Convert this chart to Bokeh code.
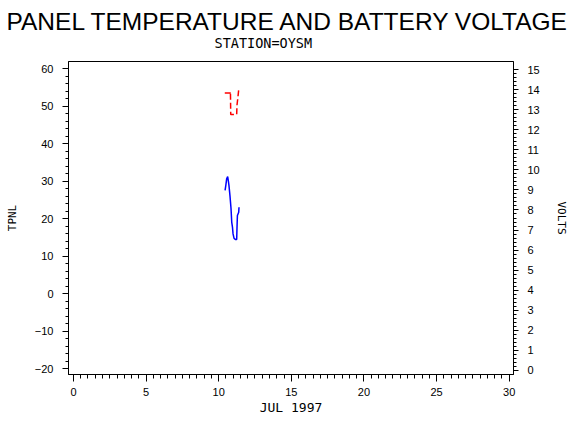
from bokeh.plotting import figure
from bokeh.models import Range1d, LinearAxis, FixedTicker, Title
from bokeh.embed import file_html
from bokeh.resources import INLINE

# --- data ---
temp_day = [10.44, 10.49, 10.55, 10.62, 10.67, 10.71, 10.78, 10.85, 10.90, 10.95,
            10.99, 11.06, 11.17, 11.24, 11.26, 11.29, 11.38, 11.40]
temp_val = [27.5, 28.8, 30.6, 31.2, 29.9, 28.8, 26.0, 22.7, 19.0, 17.7,
            15.9, 14.7, 14.4, 14.4, 17.3, 20.8, 21.7, 23.0]

volt_day = [10.42, 10.80, 10.81, 10.83, 11.24, 11.26, 11.33, 11.38, 11.36]
volt_val = [13.83, 13.83, 13.90, 12.76, 12.76, 13.22, 13.65, 14.00, 14.05]

x_ticks = [0, 5, 10, 15, 20, 25, 30]
y_ticks = [-20, -10, 0, 10, 20, 30, 40, 50, 60]
v_ticks = list(range(0, 16))

TICK_FONT = "Liberation Sans"
LABEL_FONT = "DejaVu Sans Mono"

p = figure(width=570, height=430, output_backend="svg", toolbar_location=None,
           x_range=Range1d(-0.34, 30.3), y_range=Range1d(-21.6, 61.9),
           min_border_left=68, min_border_right=55, min_border_top=61, min_border_bottom=56)
p.extra_y_ranges = {"volts": Range1d(-0.2, 15.4)}

p.xgrid.visible = False
p.ygrid.visible = False
p.outline_line_color = "black"
p.outline_line_width = 1
p.background_fill_color = "white"
p.border_fill_color = "white"

sub = Title(text="STATION=OYSM", align="left", text_font=LABEL_FONT,
            text_font_size="13.5px", text_font_style="normal", text_color="black",
            standoff=22, offset=146)
p.add_layout(sub, "above")
main = Title(text="PANEL TEMPERATURE AND BATTERY VOLTAGE", align="left",
             text_font=TICK_FONT, text_font_size="24.5px", text_font_style="normal",
             text_color="black", standoff=-26, offset=-62)
p.add_layout(main, "above")

def style(ax, major, minor, out_major, out_minor):
    ax.ticker = FixedTicker(ticks=major, minor_ticks=minor)
    ax.major_tick_in = 0
    ax.minor_tick_in = 0
    ax.major_tick_out = out_major
    ax.minor_tick_out = out_minor
    ax.axis_line_color = "black"
    ax.major_tick_line_color = "black"
    ax.minor_tick_line_color = "black"
    ax.major_label_text_font = TICK_FONT
    ax.major_label_text_font_size = "11px"
    ax.major_label_text_color = "black"
    ax.axis_label_text_font = LABEL_FONT
    ax.axis_label_text_font_size = "11px"
    ax.axis_label_text_font_style = "normal"
    ax.axis_label_text_color = "black"

xa = p.xaxis[0]
style(xa, x_ticks, [i * 0.5 for i in range(0, 61)], 7, 4)
xa.axis_label = "JUL 1997"
xa.axis_label_text_font_size = "13px"
xa.major_label_standoff = 6
xa.axis_label_standoff = 1

ya = p.yaxis[0]
style(ya, y_ticks, list(range(-20, 61, 2)), 6, 3)
ya.axis_label = "TPNL"
ya.major_label_standoff = 9
ya.axis_label_standoff = 13

va = LinearAxis(y_range_name="volts", axis_label="VOLTS")
style(va, v_ticks, [i * 0.2 for i in range(0, 76)], 5, 3)
va.major_label_text_align = "right"
va.major_label_standoff = 9
va.axis_label_standoff = 12
p.add_layout(va, "right")

p.line(temp_day, temp_val, line_color="blue", line_width=1.5)
p.line(volt_day, volt_val, line_color="red", line_width=1.5, line_dash="6 3",
       y_range_name="volts")

open("out.html", "w").write(file_html(p, INLINE))
